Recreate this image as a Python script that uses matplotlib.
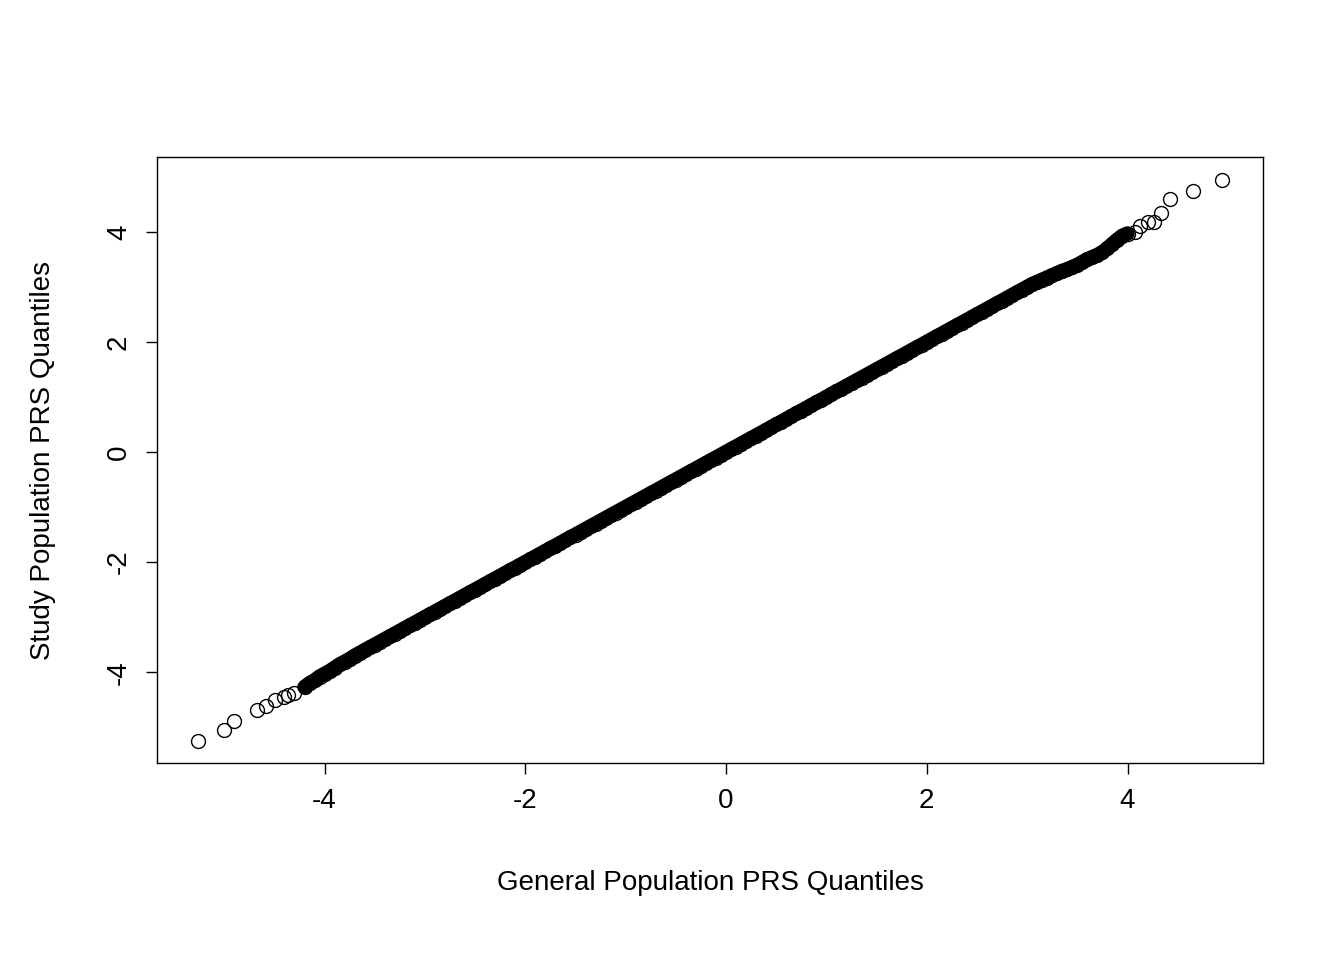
import matplotlib
matplotlib.use("Agg")
import matplotlib.pyplot as plt

x_tail_low = [-5.26, -5.0, -4.9, -4.67, -4.58, -4.49, -4.4, -4.36, -4.3]
y_tail_low = [-5.25, -5.05, -4.89, -4.69, -4.62, -4.51, -4.45, -4.42, -4.37]
x_mid = [-4.2, -4.15, -4.1, -4.05, -4.0, -3.95, -3.9, -3.85, -3.8, -3.75, -3.7, -3.65, -3.6, -3.55, -3.5, -3.45, -3.4, -3.35, -3.3, -3.25, -3.2, -3.15, -3.1, -3.05,
         -3.0, -2.95, -2.9, -2.85, -2.8, -2.75, -2.7, -2.65, -2.6, -2.55, -2.5, -2.45, -2.4, -2.35, -2.3, -2.25, -2.2, -2.15, -2.1, -2.05,
         -2.0, -1.95, -1.9, -1.85, -1.8, -1.75, -1.7, -1.65, -1.6, -1.55, -1.5, -1.45, -1.4, -1.35, -1.3, -1.25, -1.2, -1.15, -1.1, -1.05,
         -1.0, -0.95, -0.9, -0.85, -0.8, -0.75, -0.7, -0.65, -0.6, -0.55, -0.5, -0.45, -0.4, -0.35, -0.3, -0.25, -0.2, -0.15, -0.1, -0.05,
         0.0, 0.05, 0.1, 0.15, 0.2, 0.25, 0.3, 0.35, 0.4, 0.45, 0.5, 0.55, 0.6, 0.65, 0.7, 0.75, 0.8, 0.85, 0.9, 0.95,
         1.0, 1.05, 1.1, 1.15, 1.2, 1.25, 1.3, 1.35, 1.4, 1.45, 1.5, 1.55, 1.6, 1.65, 1.7, 1.75, 1.8, 1.85, 1.9, 1.95,
         2.0, 2.05, 2.1, 2.15, 2.2, 2.25, 2.3, 2.35, 2.4, 2.45, 2.5, 2.55, 2.6, 2.65, 2.7, 2.75, 2.8, 2.85, 2.9, 2.95,
         3.0, 3.05, 3.1, 3.15, 3.2, 3.25, 3.3, 3.35, 3.4, 3.45, 3.5, 3.55, 3.6, 3.65, 3.7, 3.75, 3.8, 3.85, 3.9, 3.95, 4.0]
y_mid = [-4.27, -4.2, -4.15, -4.08, -4.03, -3.98, -3.92, -3.86, -3.81, -3.76, -3.7, -3.65, -3.6, -3.55, -3.5, -3.45, -3.4, -3.35, -3.3, -3.25, -3.2, -3.15, -3.1, -3.05,
         -3.0, -2.95, -2.9, -2.85, -2.8, -2.75, -2.7, -2.65, -2.6, -2.55, -2.5, -2.45, -2.4, -2.35, -2.3, -2.25, -2.2, -2.15, -2.1, -2.05,
         -2.0, -1.95, -1.9, -1.85, -1.8, -1.75, -1.7, -1.65, -1.6, -1.55, -1.5, -1.45, -1.4, -1.35, -1.3, -1.25, -1.2, -1.15, -1.1, -1.05,
         -1.0, -0.95, -0.9, -0.85, -0.8, -0.75, -0.7, -0.65, -0.6, -0.55, -0.5, -0.45, -0.4, -0.35, -0.3, -0.25, -0.2, -0.15, -0.1, -0.05,
         0.0, 0.05, 0.1, 0.15, 0.2, 0.25, 0.3, 0.35, 0.4, 0.45, 0.5, 0.55, 0.6, 0.65, 0.7, 0.75, 0.8, 0.85, 0.9, 0.95,
         1.0, 1.05, 1.1, 1.15, 1.2, 1.25, 1.3, 1.35, 1.4, 1.45, 1.5, 1.55, 1.6, 1.65, 1.7, 1.75, 1.8, 1.85, 1.9, 1.95,
         2.0, 2.05, 2.1, 2.15, 2.2, 2.25, 2.3, 2.35, 2.4, 2.45, 2.5, 2.55, 2.6, 2.65, 2.7, 2.75, 2.8, 2.85, 2.9, 2.95,
         3.0, 3.05, 3.09, 3.13, 3.17, 3.21, 3.25, 3.29, 3.32, 3.36, 3.4, 3.45, 3.5, 3.54, 3.58, 3.63, 3.7, 3.78, 3.86, 3.93, 3.97]
x_tail_high = [4.07, 4.12, 4.2, 4.26, 4.33, 4.42, 4.65, 4.94]
y_tail_high = [4.0, 4.1, 4.18, 4.18, 4.35, 4.6, 4.75, 4.95]

xs = x_tail_low + x_mid + x_tail_high
ys = y_tail_low + y_mid + y_tail_high

plt.rcParams['font.family'] = ['Liberation Sans', 'DejaVu Sans']
plt.rcParams['axes.unicode_minus'] = False
fig = plt.figure(figsize=(13.44, 9.6), dpi=100)
ax = fig.add_axes([157/1344, 1-763/960, (1263-157)/1344, (763-157)/960])
# dense central run of overlapping points renders as a solid band
ax.plot(x_mid, y_mid, color='black', linewidth=10.5, solid_capstyle='round')
ax.plot(xs, ys, linestyle='none', marker='o', markersize=10, markerfacecolor='none',
        markeredgecolor='black', markeredgewidth=1.0)
ax.set_xlim(-5.67, 5.35)
ax.set_ylim(-5.65, 5.36)
ax.set_xticks([-4, -2, 0, 2, 4])
ax.set_yticks([-4, -2, 0, 2, 4])
ax.tick_params(labelsize=20, length=8, width=1, pad=10)
for lab in ax.get_yticklabels():
    lab.set_rotation(90)
    lab.set_va('center')
ax.set_xlabel('General Population PRS Quantiles', fontsize=20, labelpad=40)
ax.set_ylabel('Study Population PRS Quantiles', fontsize=20, labelpad=36)
for s in ax.spines.values():
    s.set_linewidth(1)
fig.savefig('out.png', dpi=100)
